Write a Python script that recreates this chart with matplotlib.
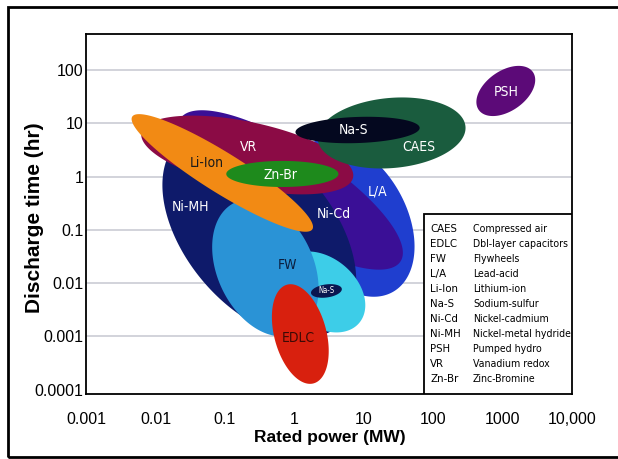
import numpy as np
import matplotlib.pyplot as plt
from matplotlib.patches import Rectangle

# Storage technologies, listed back to front (drawing order)
names = ['L/A', 'Ni-Cd', 'Ni-MH', '', 'FW', 'VR', 'Li-Ion', 'Zn-Br', 'CAES', 'Na-S', 'EDLC', 'Na-S', 'PSH']
colors = ['#1f3ecf', '#3a0f96', '#0e1a6a', '#3dcde8', '#2a93d6', '#8b0b45', '#f28a14',
          '#1e8a1c', '#1a5c3e', '#04081f', '#d8200e', '#0a1650', '#5c0a78']
# ellipse centre (MW, hr), half length / half width in decades of power, tilt in degrees
power_mw = [6.46, 0.88, 0.3135, 2.54, 0.383, 0.21, 0.0918, 0.673, 25.2, 8.15, 1.22, 2.9, 1112]
time_hr = [0.167, 0.561, 0.0875, 0.00684, 0.0193, 2.54, 1.17, 1.12, 6.58, 7.48, 0.00111, 0.00714, 40.4]
half_len = [1.227, 1.89, 1.76, 0.693, 1.039, 1.558, 1.53, 0.808, 1.068, 0.895, 0.736, 0.224, 0.476]
half_wid = [0.794, 0.606, 1.068, 0.491, 0.693, 0.476, 0.289, 0.188, 0.505, 0.188, 0.375, 0.094, 0.289]
tilt = [-60, -33, -50, -40, -65, -12, -32, 0, 5, 2, -75, 8, 35]
# where each label sits
label_mw = [15.8, 3.66, 0.0317, 2.54, 0.794, 0.218, 0.0557, 0.63, 61.8, 7.13, 1.15, 2.9, 1112]
label_hr = [0.514, 0.199, 0.269, 0.00684, 0.0219, 3.59, 1.80, 1.07, 3.59, 7.48, 0.000937, 0.00714, 38.6]
label_col = ['white', 'white', 'white', 'white', '#0b1d3d', 'white', '#1a1a1a', 'white',
             'white', 'white', '#3b0a05', 'white', 'white']

legend_abbr = ['CAES', 'EDLC', 'FW', 'L/A', 'Li-Ion', 'Na-S', 'Ni-Cd', 'Ni-MH', 'PSH', 'VR', 'Zn-Br']
legend_desc = ['Compressed air', 'Dbl-layer capacitors', 'Flywheels', 'Lead-acid', 'Lithium-ion',
               'Sodium-sulfur', 'Nickel-cadmium', 'Nickel-metal hydride', 'Pumped hydro',
               'Vanadium redox', 'Zinc-Bromine']

xticks = [0.001, 0.01, 0.1, 1, 10, 100, 1000, 10000]
xtick_labels = ['0.001', '0.01', '0.1', '1', '10', '100', '1000', '10,000']
yticks = [0.0001, 0.001, 0.01, 0.1, 1, 10, 100]
ytick_labels = ['0.0001', '0.001', '0.01', '0.1', '1', '10', '100']

plt.rcParams['font.family'] = ['Liberation Sans', 'DejaVu Sans']
cond = dict(family='DejaVu Sans', fontstretch='condensed')

fig = plt.figure(figsize=(6.18, 4.59), dpi=100)
ax = fig.add_axes([0.1392, 0.1416, 0.7864, 0.7843])
ax.set_xscale('log')
ax.set_yscale('log')
xlim = (1e-3, 1e4)
ylim = (10 ** -4.08, 10 ** 2.675)
ax.set_xlim(xlim)
ax.set_ylim(ylim)

# y pixels per decade relative to x pixels per decade
bb = ax.get_window_extent()
k = (bb.height / np.log10(ylim[1] / ylim[0])) / (bb.width / np.log10(xlim[1] / xlim[0]))

for yv in yticks[1:]:
    ax.axhline(yv, color='#cfd0d8', lw=1.3, zorder=0)

t = np.linspace(0, 2 * np.pi, 300)
for i in range(len(names)):
    th = np.radians(tilt[i])
    a, b = half_len[i], half_wid[i]
    du = a * np.cos(t) * np.cos(th) - b * np.sin(t) * np.sin(th)
    dv = (a * np.cos(t) * np.sin(th) + b * np.sin(t) * np.cos(th)) / k
    ax.fill(power_mw[i] * 10 ** du, time_hr[i] * 10 ** dv, color=colors[i], lw=0, zorder=2 + i * 0.1)

for i in range(len(names)):
    if not names[i]:
        continue
    fs = 5.5 if i == 11 else 10
    ax.text(label_mw[i], label_hr[i], names[i], color=label_col[i], fontsize=fs,
            ha='center', va='center', zorder=4, **cond)

# legend box
ax.add_patch(Rectangle((0.695, 0), 0.305, 0.5, transform=ax.transAxes, fc='white',
                       ec='black', lw=1.3, zorder=5))
for j in range(len(legend_abbr)):
    yy = 0.458 - j * 0.0417
    ax.text(0.708, yy, legend_abbr[j], transform=ax.transAxes, fontsize=8.2,
            va='center', ha='left', zorder=6, **cond)
    ax.text(0.796, yy, legend_desc[j], transform=ax.transAxes, fontsize=7.6,
            va='center', ha='left', zorder=6, **cond)

ax.set_xticks(xticks)
ax.set_xticklabels(xtick_labels)
ax.set_yticks(yticks)
ax.set_yticklabels(ytick_labels)
ax.minorticks_off()
ax.tick_params(length=0, labelsize=11.5)
ax.tick_params(axis='x', pad=13)
ax.tick_params(axis='y', pad=2)
for s in ax.spines.values():
    s.set_linewidth(1.3)
    s.set_color('black')

ax.set_xlabel('Rated power (MW)', fontsize=12.5, fontweight='bold')
ax.xaxis.set_label_coords(0.502, -0.1)
ax.set_ylabel('Discharge time (hr)', fontsize=15, fontweight='bold')
ax.yaxis.set_label_coords(-0.086, 0.49)

# outer frame
fig.patches.append(Rectangle((8 / 618, 2 / 459), 1.0, 1 - 9 / 459, transform=fig.transFigure,
                             fill=False, ec='black', lw=2.0))

fig.savefig('out.png', dpi=100)
